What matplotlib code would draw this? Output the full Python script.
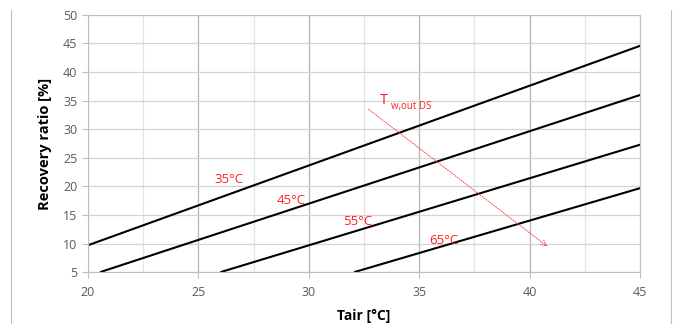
import matplotlib
matplotlib.use("Agg")
import matplotlib.pyplot as plt
from matplotlib.lines import Line2D

# Recovery ratio vs air temperature, one line per outlet water temperature
tair_35 = [20.0, 45.0]
ratio_35 = [9.7, 44.6]
tair_45 = [20.55, 45.0]
ratio_45 = [5.0, 36.0]
tair_55 = [26.0, 45.0]
ratio_55 = [5.0, 27.3]
tair_65 = [32.05, 45.0]
ratio_65 = [5.0, 19.7]

series = [(tair_35, ratio_35), (tair_45, ratio_45), (tair_55, ratio_55), (tair_65, ratio_65)]
labels = ["35°C", "45°C", "55°C", "65°C"]
label_pos = [(26.4, 21.2), (29.2, 17.6), (32.2, 13.8), (36.1, 10.6)]

x_ticks = [20, 25, 30, 35, 40, 45]
y_ticks = [5, 10, 15, 20, 25, 30, 35, 40, 45, 50]

plt.rcParams['font.family'] = ['Open Sans', 'DejaVu Sans']

fig = plt.figure(figsize=(6.76, 3.24), dpi=100)
ax = fig.add_axes([0.130, 0.160, 0.817, 0.794])

for xs, ys in series:
    ax.plot(xs, ys, color="black", lw=1.5, solid_capstyle="butt")

for lab, (lx, ly) in zip(labels, label_pos):
    ax.text(lx, ly, lab, color="#ff2020", fontsize=9.5, ha="center", va="center")

# direction arrow for rising outlet temperature
ax.annotate("", xy=(40.9, 9.2), xytext=(32.6, 33.8),
            arrowprops=dict(arrowstyle="->", color="#ff4040", lw=0.7, linestyle=(0, (1, 1.5))))
ax.text(33.2, 35.0, "T", color="#ff2020", fontsize=10.5, ha="left", va="center")
ax.text(33.72, 33.9, "w,out DS", color="#ff2020", fontsize=7, ha="left", va="center")

ax.set_xlim(20, 45)
ax.set_ylim(5, 50)
ax.set_xticks(x_ticks)
ax.set_yticks(y_ticks)
ax.set_xticks([22.5, 27.5, 32.5, 37.5, 42.5], minor=True)
ax.grid(which="major", axis="x", color="#b4b4b4", lw=0.9)
ax.grid(which="major", axis="y", color="#d4d4d4", lw=0.9)
ax.grid(which="minor", axis="x", color="#e4e4e4", lw=0.9)
ax.set_axisbelow(True)
ax.tick_params(which="major", length=4, color="#bfbfbf", labelcolor="#595959", labelsize=9)
ax.tick_params(which="minor", length=0)
ax.tick_params(axis="x", pad=6)
for s in ax.spines.values():
    s.set_color("#bfbfbf")

ax.set_xlabel("Tair [°C]", fontsize=10, fontweight="bold", labelpad=7)
ax.set_ylabel("Recovery ratio [%]", fontsize=10.5, fontweight="bold", labelpad=8)

# outer frame lines of the original sheet
fig.add_artist(Line2D([0.016, 0.016], [0.0, 0.97], color="#bfbfbf", lw=0.8))
fig.add_artist(Line2D([0.993, 0.993], [0.0, 0.97], color="#bfbfbf", lw=0.8))

fig.savefig("out.png", dpi=100)
